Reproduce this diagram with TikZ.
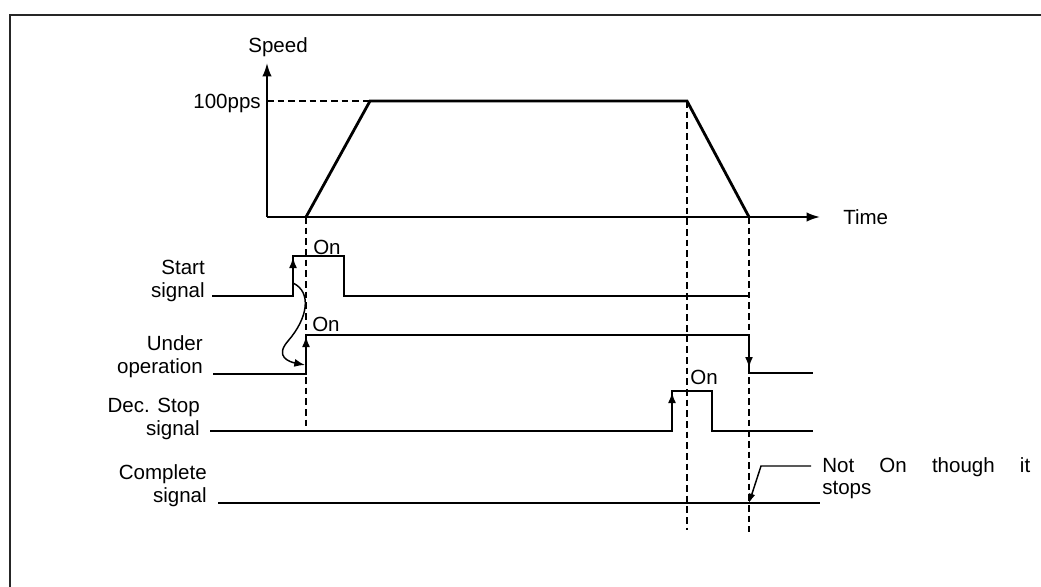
\documentclass[tikz,border=0pt]{standalone}
\usepackage{fontspec}
\setmainfont{Liberation Sans}
\usetikzlibrary{arrows.meta}
\begin{document}
\begin{tikzpicture}[x=0.75pt,y=-0.75pt,
  lbl/.style={font=\fontsize{15.4}{17}\selectfont, inner sep=0pt},
  sidelbl/.style={lbl, align=right, anchor=base east},
  sig/.style={line width=1.4pt, line join=miter},
  prof/.style={line width=2.1pt, line join=miter},
  guide/.style={line width=1.1pt, dash pattern=on 5pt off 3pt},
  edgearrow/.style={line width=1.4pt, -{Latex[length=8pt,width=6pt]}, shorten >=1pt},
  axisline/.style={line width=1.4pt, -{Latex[length=10pt,width=7pt]}},
]
\useasboundingbox (0,0) rectangle (1041,586);
\clip (0,0) rectangle (1041,586);
% frame (only the top and left edges are inside the picture)
\draw[line width=1.6pt, draw=black!85] (1100,15) -- (10,15) -- (10,700);

% ---- speed profile ----
\coordinate (O) at (267,217);
\coordinate (Ytip) at (267,63);
\coordinate (Xtip) at (820,217);
\draw[axisline] (O) -- (Ytip);
\draw[axisline] (O) -- (Xtip);
\node[lbl, anchor=center] (speed) at (278,47) {Speed};
\node[lbl, anchor=west] (time) at (843,217) {Time};
\node[lbl, anchor=east] (pps) at (261,103) {100pps};
\coordinate (p1) at (306,217);
\coordinate (p2) at (370,101);
\coordinate (p3) at (687,101);
\coordinate (p4) at (749,217);
\draw[guide] (pps.east) ++(6,-2) coordinate (ppsr) -- (p2);
\draw[prof] (p1) -- (p2) -- (p3) -- (p4);

% dashed guides
\coordinate (g1b) at (306,432);
\coordinate (g3b) at (687,530);
\coordinate (g4b) at (749,532);
\draw[guide] (p1) -- (g1b);
\draw[guide] (p3) -- (g3b);
\draw[guide] (p4) -- (g4b);

% ---- Start signal ----
\node[sidelbl] (lstart) at (205,297) {Start\\signal};
\coordinate (s0) at (212,296);
\coordinate (s1) at (293,296);
\coordinate (s2) at (293,256);
\coordinate (s3) at (344,256);
\coordinate (s4) at (344,296);
\coordinate (s5) at (750,296);
\draw[sig] (s0) -- (s1) -- (s2) -- (s3) -- (s4) -- (s5);
\draw[edgearrow] (s1) -- (s2);
\node[lbl, anchor=west] (on1) at (313,247) {On};

% ---- Under operation ----
\node[sidelbl] (lunder) at (203,373) {Under\\operation};
\coordinate (u0) at (213,374);
\coordinate (u1) at (306,374);
\coordinate (u2) at (306,335);
\coordinate (u3) at (749,335);
\coordinate (u4) at (749,373);
\coordinate (u5) at (813,373);
\draw[sig] (u0) -- (u1) -- (u2) -- (u3) -- (u4) -- (u5);
\draw[edgearrow] (u1) -- (u2);
\draw[edgearrow, shorten >=4pt] (u3) -- (u4);
\node[lbl, anchor=west] (on2) at (312,324) {On};

% curved cause arrow
\coordinate (c0) at (293,283);
\coordinate (c1) at (288,341);
\coordinate (c2) at (305,365);
\draw[line width=1.1pt, -{Latex[length=8pt,width=6pt]}]
  (c0) .. controls (312,292) and (308,318) .. (c1)
       .. controls (274,357) and (290,362) .. (c2);

% ---- Dec. Stop signal ----
\node[sidelbl] (ldec) at (200,435) {Dec. Stop\\signal};
\coordinate (d0) at (210,431);
\coordinate (d1) at (672,431);
\coordinate (d2) at (672,391);
\coordinate (d3) at (712,391);
\coordinate (d4) at (712,431);
\coordinate (d5) at (813,431);
\draw[sig] (d0) -- (d1) -- (d2) -- (d3) -- (d4) -- (d5);
\draw[edgearrow] (d1) -- (d2);
\node[lbl, anchor=west] (on3) at (690,377) {On};

% ---- Complete signal ----
\node[sidelbl] (lcomp) at (207,502) {Complete\\signal};
\coordinate (k0) at (218,503);
\coordinate (k1) at (820,503);
\draw[sig] (k0) -- (k1);

% callout
\coordinate (n0) at (811,466);
\coordinate (n1) at (761,466);
\coordinate (n2) at (749,503);
\draw[line width=1.1pt, -{Latex[length=7pt,width=5pt]}] (n0) -- (n1) -- (n2);
\node[lbl, anchor=north west, align=left] (note) at (822,457)
  {\makebox[156pt][s]{Not On though it}\\stops};
\end{tikzpicture}
\end{document}
